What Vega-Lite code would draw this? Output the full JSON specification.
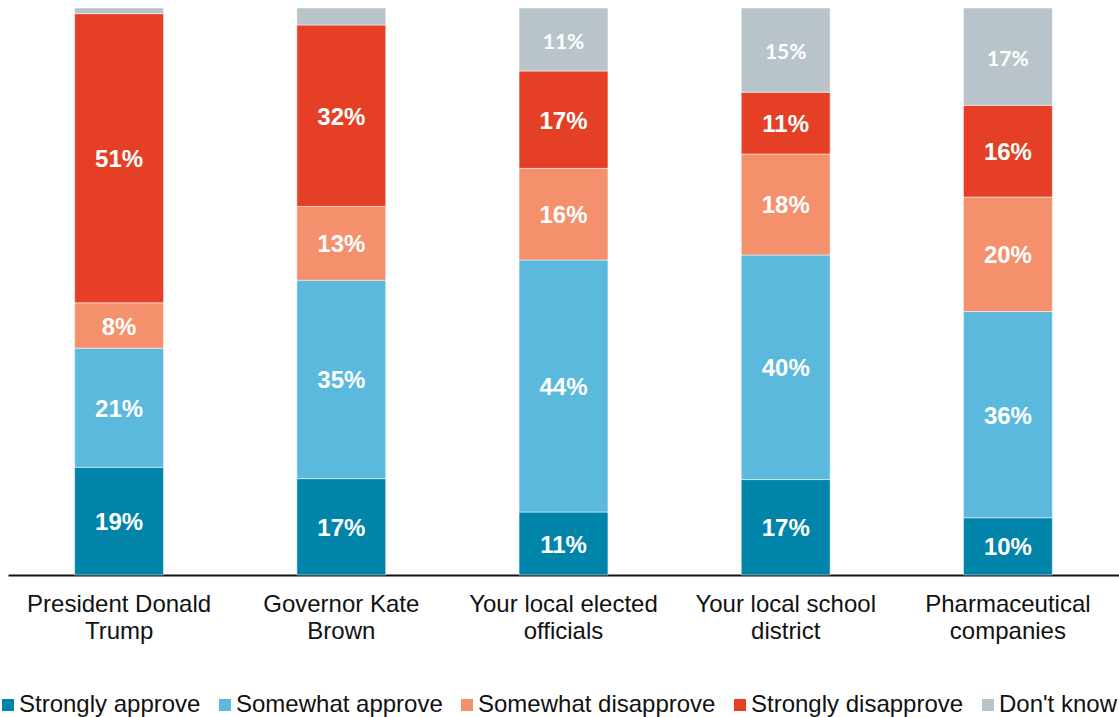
{
  "$schema": "https://vega.github.io/schema/vega-lite/v6.json",
  "autosize": {"type": "none"},
  "width": 1111,
  "height": 567,
  "padding": {"left": 8, "top": 8, "right": 0, "bottom": 142},
  "background": "white",
  "config": {"view": {"stroke": null}, "font": "Liberation Sans"},
  "data": {
    "values": [
      {"entity": "President Donald\nTrump", "response": "Strongly approve", "rank": 1, "value": 19},
      {"entity": "President Donald\nTrump", "response": "Somewhat approve", "rank": 2, "value": 21},
      {"entity": "President Donald\nTrump", "response": "Somewhat disapprove", "rank": 3, "value": 8},
      {"entity": "President Donald\nTrump", "response": "Strongly disapprove", "rank": 4, "value": 51},
      {"entity": "President Donald\nTrump", "response": "Don't know", "rank": 5, "value": 1},
      {"entity": "Governor Kate\nBrown", "response": "Strongly approve", "rank": 1, "value": 17},
      {"entity": "Governor Kate\nBrown", "response": "Somewhat approve", "rank": 2, "value": 35},
      {"entity": "Governor Kate\nBrown", "response": "Somewhat disapprove", "rank": 3, "value": 13},
      {"entity": "Governor Kate\nBrown", "response": "Strongly disapprove", "rank": 4, "value": 32},
      {"entity": "Governor Kate\nBrown", "response": "Don't know", "rank": 5, "value": 3},
      {"entity": "Your local elected\nofficials", "response": "Strongly approve", "rank": 1, "value": 11},
      {"entity": "Your local elected\nofficials", "response": "Somewhat approve", "rank": 2, "value": 44},
      {"entity": "Your local elected\nofficials", "response": "Somewhat disapprove", "rank": 3, "value": 16},
      {"entity": "Your local elected\nofficials", "response": "Strongly disapprove", "rank": 4, "value": 17},
      {"entity": "Your local elected\nofficials", "response": "Don't know", "rank": 5, "value": 11},
      {"entity": "Your local school\ndistrict", "response": "Strongly approve", "rank": 1, "value": 17},
      {"entity": "Your local school\ndistrict", "response": "Somewhat approve", "rank": 2, "value": 40},
      {"entity": "Your local school\ndistrict", "response": "Somewhat disapprove", "rank": 3, "value": 18},
      {"entity": "Your local school\ndistrict", "response": "Strongly disapprove", "rank": 4, "value": 11},
      {"entity": "Your local school\ndistrict", "response": "Don't know", "rank": 5, "value": 15},
      {"entity": "Pharmaceutical\ncompanies", "response": "Strongly approve", "rank": 1, "value": 10},
      {"entity": "Pharmaceutical\ncompanies", "response": "Somewhat approve", "rank": 2, "value": 36},
      {"entity": "Pharmaceutical\ncompanies", "response": "Somewhat disapprove", "rank": 3, "value": 20},
      {"entity": "Pharmaceutical\ncompanies", "response": "Strongly disapprove", "rank": 4, "value": 16},
      {"entity": "Pharmaceutical\ncompanies", "response": "Don't know", "rank": 5, "value": 17}
    ]
  },
  "encoding": {
    "x": {
      "field": "entity",
      "type": "nominal",
      "sort": null,
      "scale": {"paddingInner": 0.6, "paddingOuter": 0.3},
      "axis": {
        "title": null,
        "labelAngle": 0,
        "labelExpr": "split(datum.label, '\\n')",
        "labelFontSize": 24,
        "labelColor": "#111111",
        "labelLineHeight": 27,
        "labelPadding": 17,
        "labelLimit": 400,
        "ticks": false,
        "domainColor": "#111111",
        "domainWidth": 2,
        "labelFont": "Liberation Sans"
      }
    },
    "order": {"field": "rank", "type": "quantitative", "sort": "ascending"},
    "y": {"field": "value", "type": "quantitative", "stack": "normalize", "axis": null}
  },
  "layer": [
    {
      "mark": {"type": "bar", "stroke": "white", "strokeWidth": 0.5},
      "encoding": {
        "color": {
          "field": "response",
          "type": "nominal",
          "scale": {
            "domain": ["Strongly approve", "Somewhat approve", "Somewhat disapprove", "Strongly disapprove", "Don't know"],
            "range": ["#0084a9", "#5bb9de", "#f5906c", "#e53f26", "#b9c3ca"]
          },
          "legend": {
            "title": null,
            "orient": "none",
            "direction": "horizontal",
            "legendX": -12,
            "legendY": 685,
            "symbolType": "square",
            "symbolSize": 144,
            "symbolStrokeWidth": 0,
            "labelFontSize": 24,
            "labelFont": "Liberation Sans",
            "labelColor": "#111111",
            "labelOffset": -1,
            "columnPadding": 12,
            "labelLimit": 400
          }
        }
      }
    },
    {
      "mark": {"type": "text", "color": "white", "fontSize": 24, "fontWeight": "bold", "font": "Liberation Sans", "baseline": "middle", "dy": 2},
      "encoding": {
        "y": {"field": "value", "type": "quantitative", "stack": "normalize", "bandPosition": 0.5},
        "text": {
          "condition": {"test": "datum.value < 5 || datum.response == \"Don't know\"", "value": ""},
          "value": {"expr": "datum.value + '%'"}
        },
        "detail": {"field": "response"}
      }
    },
    {
      "mark": {"type": "text", "color": "white", "fontSize": 21, "fontWeight": "bold", "font": "Lato", "baseline": "middle", "dy": 3},
      "encoding": {
        "y": {"field": "value", "type": "quantitative", "stack": "normalize", "bandPosition": 0.5},
        "text": {
          "condition": {"test": "datum.value < 5 || datum.response != \"Don't know\"", "value": ""},
          "value": {"expr": "datum.value + '%'"}
        },
        "detail": {"field": "response"}
      }
    }
  ]
}
